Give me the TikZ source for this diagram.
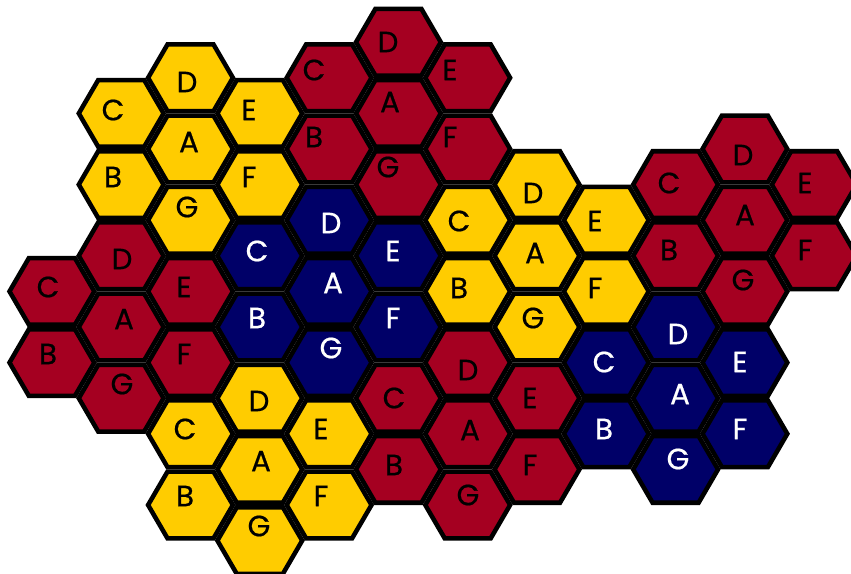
\documentclass[tikz,border=0pt]{standalone}
\usepackage{fontspec}
\setmainfont{Poppins}
\newfontfamily\lblfont{Poppins}[FakeBold=0.6]
\definecolor{hexyellow}{RGB}{255,204,0}
\definecolor{hexred}{RGB}{165,0,33}
\definecolor{hexblue}{RGB}{0,0,104}
\tikzset{
  hexcell/.pic={\path[pic actions] (-42.4,0) -- (-23,-33.35) -- (23,-33.35) -- (42.4,0) -- (23,33.35) -- (-23,33.35) -- cycle;},
  hexstyle/.style={draw=black, line width=3.4pt, line join=miter, fill=#1},
  lbl/.style={font=\lblfont\fontsize{22}{22}\selectfont, inner sep=0pt, text=#1},
}
% lattice: x = 190.5 + 69.3*col, y = 149 + 71.2*row
% #1 name, #2 col, #3 row of centre cell, #4 fill, #5 text colour, #6 #7 letter anchor
\newcommand\hexcluster[7]{%
  \foreach \dc/\dr in {0/0,0/-1,0/1,-1/-0.5,1/-0.5,-1/0.5,1/0.5}
    \pic[hexstyle=#4] at ({190.5+69.3*(#2+\dc)},{149+71.2*(#3+\dr)}) {hexcell};
  \node[lbl=#5] (#1A) at ({#6+1},{#7-6}) {A};
  \node[lbl=#5] (#1D) at ({#6-1},{#7-66}) {D};
  \node[lbl=#5] (#1G) at ({#6-1},{#7+59}) {G};
  \node[lbl=#5] (#1C) at ({#6-75},{#7-38}) {C};
  \node[lbl=#5] (#1E) at ({#6+61},{#7-38}) {E};
  \node[lbl=#5] (#1B) at ({#6-75},{#7+29}) {B};
  \node[lbl=#5] (#1F) at ({#6+61},{#7+29}) {F};
}
\begin{document}
\begin{tikzpicture}[x=0.75pt,y=-0.75pt]
\useasboundingbox (0,0) rectangle (851,574);
\hexcluster{ya}{0}{0}{hexyellow}{black}{188}{148}
\hexcluster{ra}{3}{-0.5}{hexred}{black}{389}{108}
\hexcluster{rb}{-1}{2.5}{hexred}{black}{123}{325}
\hexcluster{yb}{1}{4.5}{hexyellow}{black}{260}{467}
\hexcluster{ba}{2}{2}{hexblue}{white}{332}{289}
\hexcluster{yc}{5}{1.5}{hexyellow}{black}{534}{259}
\hexcluster{rd}{8}{1}{hexred}{black}{744}{221}
\hexcluster{bb}{7}{3.5}{hexblue}{white}{679}{400}
\hexcluster{rc}{4}{4}{hexred}{black}{469}{436}
\end{tikzpicture}
\end{document}
